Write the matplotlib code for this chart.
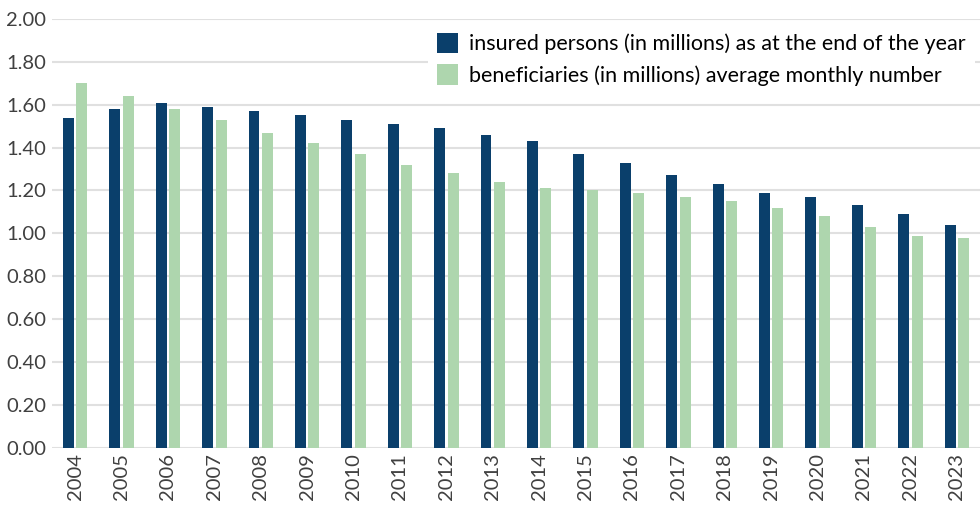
import matplotlib.pyplot as plt
import numpy as np

years = [str(y) for y in range(2004, 2024)]
insured = [1.54, 1.58, 1.61, 1.59, 1.57, 1.55, 1.53, 1.51, 1.49, 1.46,
           1.43, 1.37, 1.33, 1.27, 1.23, 1.19, 1.17, 1.13, 1.09, 1.04]
beneficiaries = [1.70, 1.64, 1.58, 1.53, 1.47, 1.42, 1.37, 1.32, 1.28, 1.24,
                 1.21, 1.20, 1.19, 1.17, 1.15, 1.12, 1.08, 1.03, 0.99, 0.98]
yticks = [0.0, 0.2, 0.4, 0.6, 0.8, 1.0, 1.2, 1.4, 1.6, 1.8, 2.0]

plt.rcParams['font.family'] = ['Lato', 'DejaVu Sans']

fig = plt.figure(figsize=(9.8, 5.09), dpi=100)
ax = fig.add_axes([0.053, 0.12, 0.947, 0.843])

x = np.arange(len(years))
w = 0.235
ax.bar(x - 0.145, insured, width=w, color='#0a3f6b',
       label='insured persons (in millions) as at the end of the year', zorder=2)
ax.bar(x + 0.145, beneficiaries, width=w, color='#aed6ae',
       label='beneficiaries (in millions) average monthly number', zorder=2)

ax.set_xlim(-0.5, len(years) - 0.5)
ax.set_ylim(0, 2.0)
ax.set_yticks(yticks)
ax.set_yticklabels([f'{v:.2f}' for v in yticks], fontsize=14.5, color='#404040')
ax.set_xticks(x)
ax.set_xticklabels(years, rotation=90, fontsize=14.5, color='#404040')
ax.tick_params(axis='both', length=0, pad=4)
ax.grid(axis='y', color='#e0e0e0', linewidth=1.5, zorder=0)
ax.set_axisbelow(True)
for s in ax.spines.values():
    s.set_visible(False)

leg = ax.legend(loc='upper right', bbox_to_anchor=(1.0, 1.0), fontsize=15.5, frameon=True,
                facecolor='white', edgecolor='none', framealpha=1,
                handlelength=0.95, handleheight=1.1, handletextpad=0.55,
                labelspacing=0.45, borderaxespad=0.25)

fig.savefig('out.png', dpi=100)
